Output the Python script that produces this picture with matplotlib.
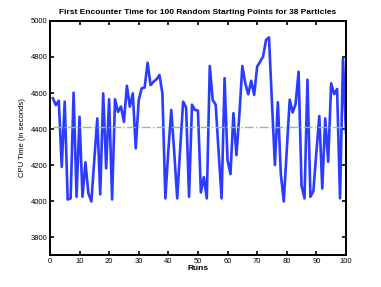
import numpy as np
import matplotlib
matplotlib.use('Agg')
import matplotlib.pyplot as plt

plt.rcParams['font.family'] = ['Liberation Sans', 'DejaVu Sans']

# CPU time of first encounter, one value per run
runs = np.arange(1, 101)
cpu_time = [4571, 4533, 4557, 4190, 4552, 4009, 4015, 4602, 4024, 4468,
            4024, 4215, 4043, 3998, 4230, 4459, 4037, 4598, 4182, 4565,
            4009, 4565, 4495, 4525, 4440, 4640, 4524, 4598, 4293, 4561,
            4626, 4630, 4768, 4644, 4663, 4676, 4700, 4598, 4015, 4280,
            4506, 4270, 4015, 4290, 4552, 4520, 4024, 4535, 4506, 4503,
            4048, 4133, 4015, 4750, 4561, 4535, 4270, 4015, 4682, 4228,
            4150, 4488, 4255, 4480, 4750, 4654, 4593, 4668, 4589, 4746,
            4774, 4802, 4894, 4909, 4550, 4200, 4549, 4150, 3998, 4280,
            4563, 4492, 4540, 4718, 4086, 4015, 4674, 4024, 4056, 4270,
            4472, 4070, 4459, 4218, 4654, 4594, 4622, 4015, 4790, 4380]
mean_time = np.mean(cpu_time)

xticks = list(range(0, 101, 10))
yticks = list(range(3800, 5001, 200))

fig = plt.figure(figsize=(3.81, 2.87), dpi=100)
ax = fig.add_axes([0.131, 0.111, 0.777, 0.816])

ax.plot(runs, cpu_time, color='#2a3cff', lw=1.9)
ax.plot(runs, [mean_time] * len(runs), color='#74d474', ls='-.', lw=1.0)

ax.set_xlim(0, 100)
ax.set_ylim(3700, 5000)
ax.set_xticks(xticks)
ax.set_yticks(yticks)
ax.tick_params(direction='in', top=True, right=True, labelsize=5.5,
               length=3, width=1.2, pad=2)
for s in ax.spines.values():
    s.set_linewidth(1.4)

ax.set_title('First Encounter Time for 100 Random Starting Points for 38 Particles',
             fontsize=6, fontweight='bold', pad=5)
ax.set_xlabel('Runs', fontsize=6, fontweight='bold', labelpad=0)
ax.set_ylabel('CPU Time (in seconds)', fontsize=5.5, labelpad=3)

fig.savefig('out.png', dpi=100)
